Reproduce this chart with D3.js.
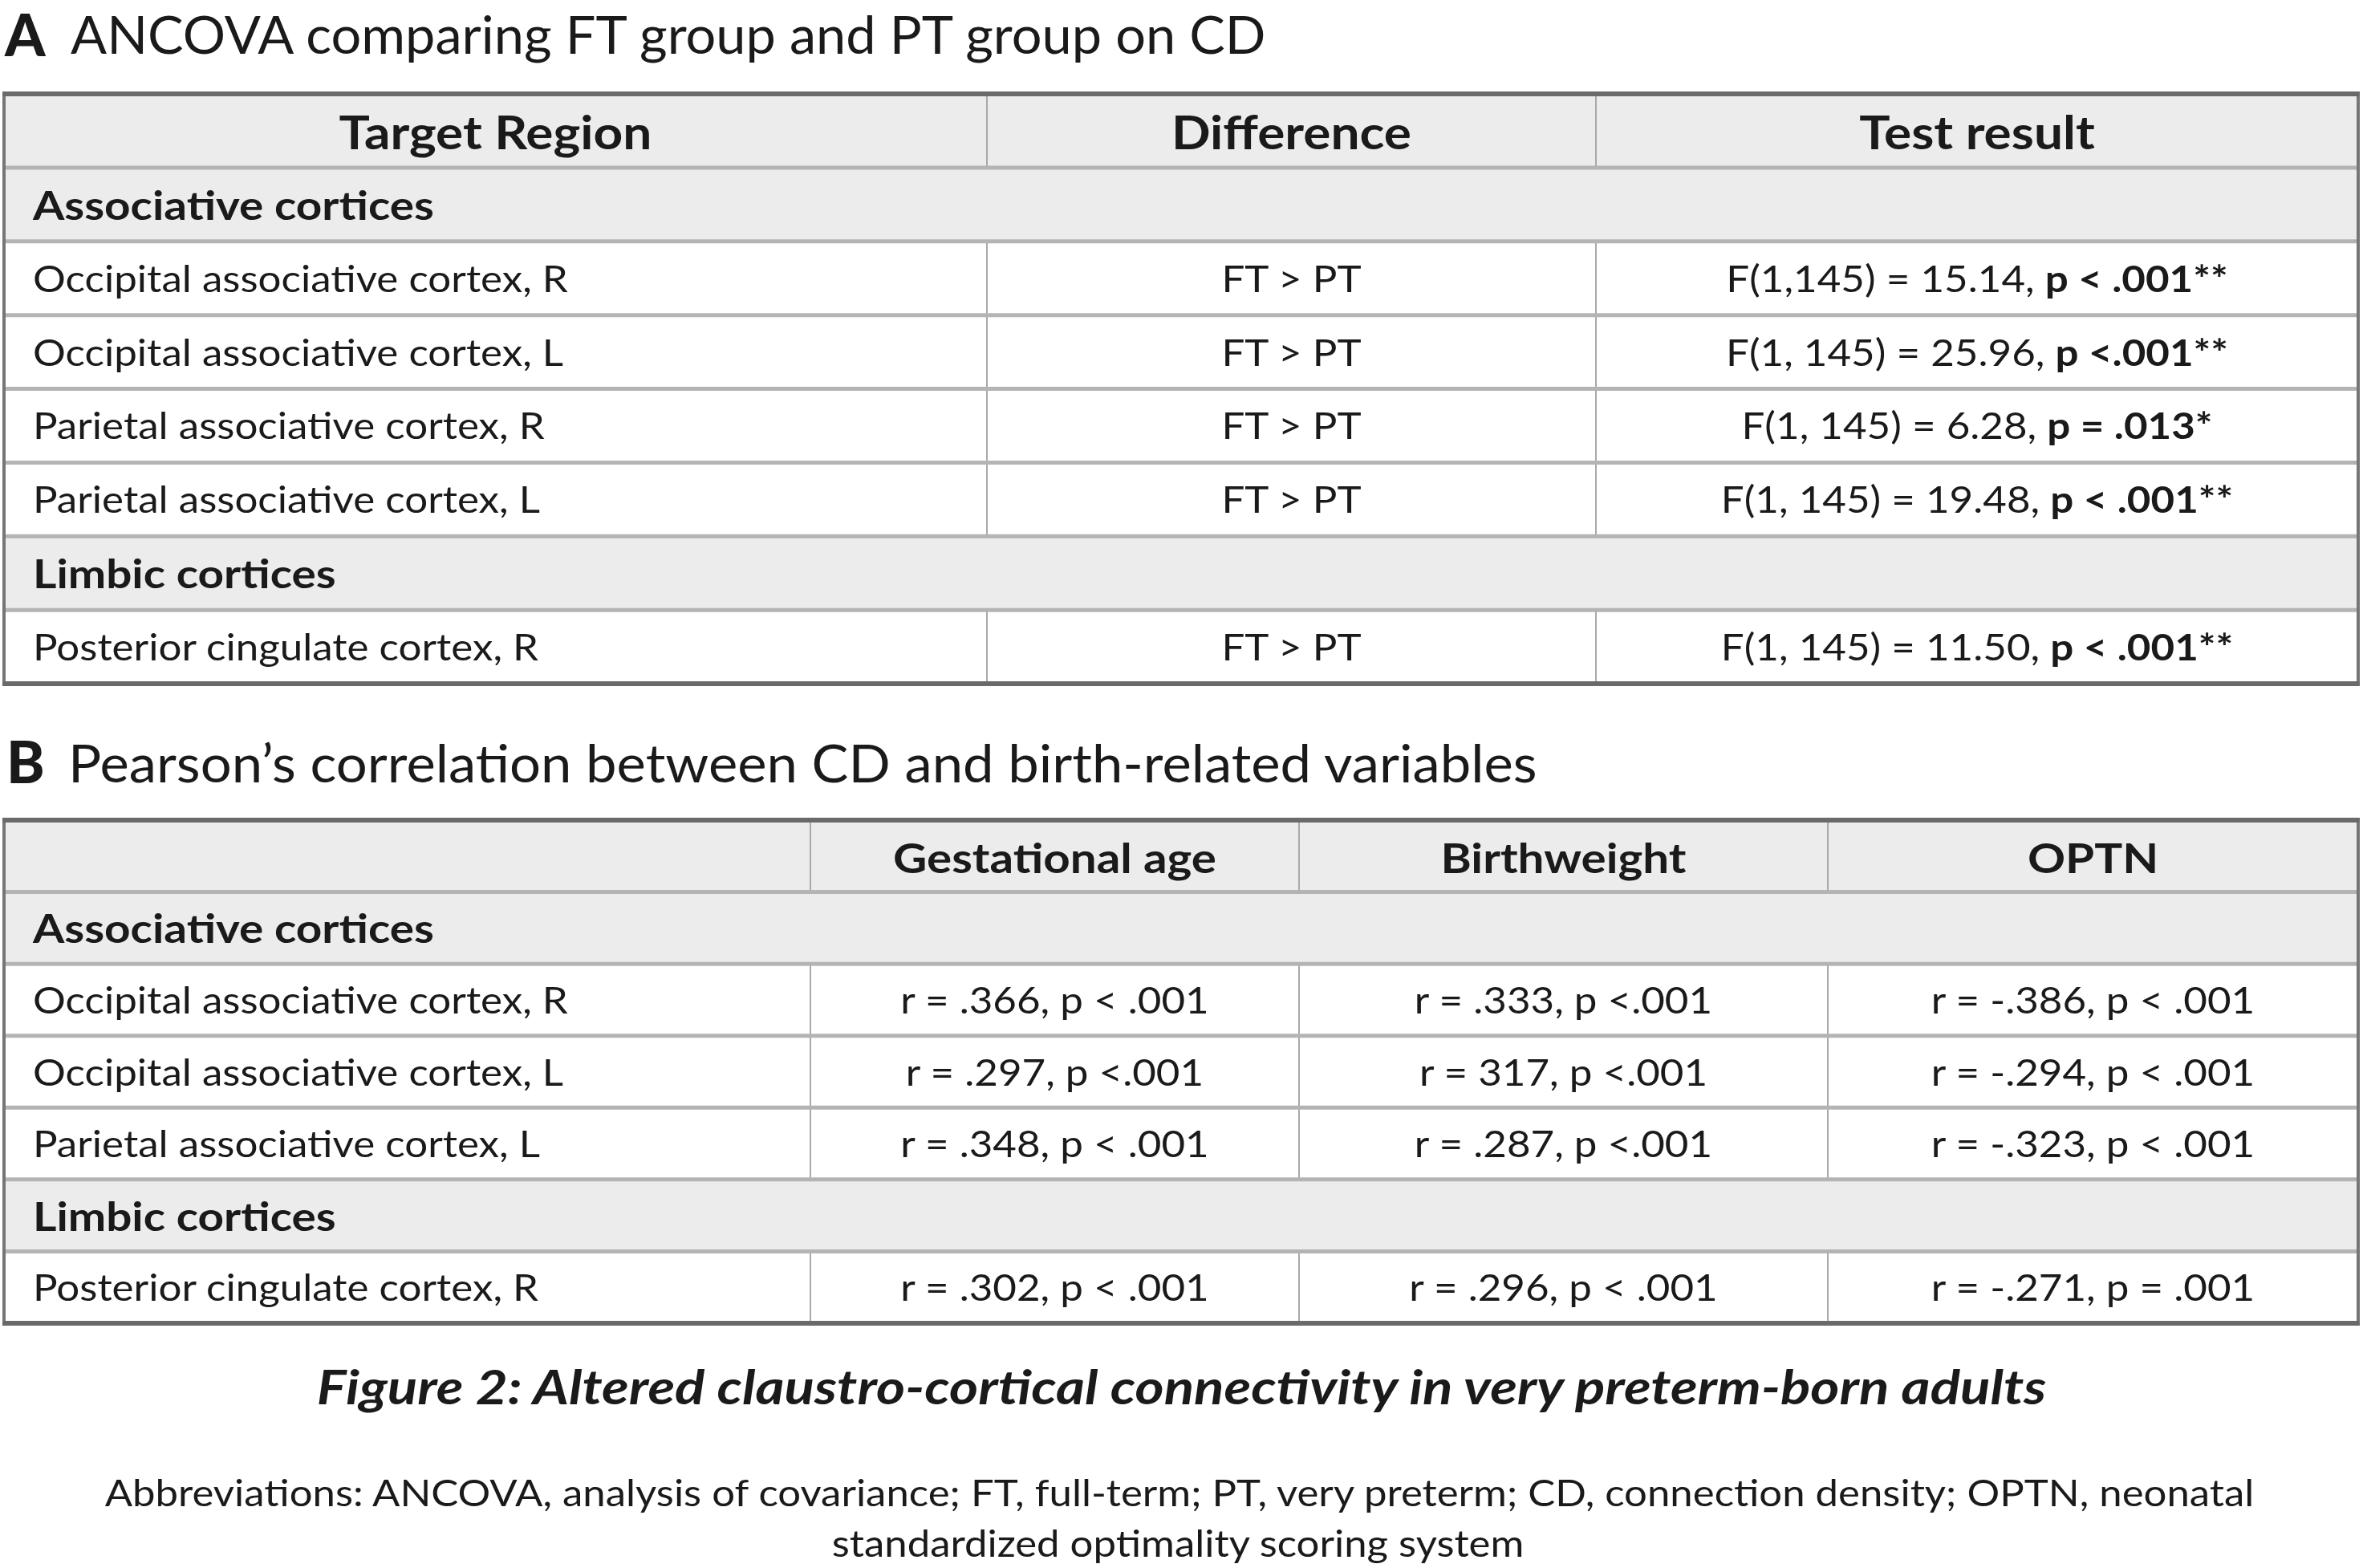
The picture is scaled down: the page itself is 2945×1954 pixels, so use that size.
<!DOCTYPE html>
<html>
<head>
<meta charset="utf-8">
<script src="https://cdn.jsdelivr.net/npm/d3@7"></script>
<style>
  html, body { margin: 0; padding: 0; background: #ffffff; }
  svg { display: block; }
</style>
</head>
<body>
<script>
// ---------------- DATA ----------------
const panelLetterA = "A";
const titleA = "ANCOVA comparing FT group and PT group on CD";
const columnsA = ["Target Region", "Difference", "Test result"];
const rowKindsA = ["group", "data", "data", "data", "data", "group", "data"];
const regionsA = [
  "Associative cortices",
  "Occipital associative cortex, R",
  "Occipital associative cortex, L",
  "Parietal associative cortex, R",
  "Parietal associative cortex, L",
  "Limbic cortices",
  "Posterior cingulate cortex, R"
];
const differenceA = ["", "FT > PT", "FT > PT", "FT > PT", "FT > PT", "", "FT > PT"];
const fStatA = ["", "F(1,145) = 15.14, ", "F(1, 145) = 25.96, ", "F(1, 145) = 6.28, ", "F(1, 145) = 19.48, ", "", "F(1, 145) = 11.50, "];
const pStatA = ["", "p < .001**", "p <.001**", "p = .013*", "p < .001**", "", "p < .001**"];

const panelLetterB = "B";
const titleB = "Pearson\u2019s correlation between CD and birth-related variables";
const columnsB = ["", "Gestational age", "Birthweight", "OPTN"];
const rowKindsB = ["group", "data", "data", "data", "group", "data"];
const regionsB = [
  "Associative cortices",
  "Occipital associative cortex, R",
  "Occipital associative cortex, L",
  "Parietal associative cortex, L",
  "Limbic cortices",
  "Posterior cingulate cortex, R"
];
const gestationalAgeB = ["", "r = .366, p < .001", "r = .297, p <.001", "r = .348, p < .001", "", "r = .302, p < .001"];
const birthweightB = ["", "r = .333, p <.001", "r = 317, p <.001", "r = .287, p <.001", "", "r = .296, p < .001"];
const optnB = ["", "r = -.386, p < .001", "r = -.294, p < .001", "r = -.323, p < .001", "", "r = -.271, p = .001"];

const captionText = "Figure 2: Altered claustro-cortical connectivity in very preterm-born adults";
const abbreviationLines = [
  "Abbreviations: ANCOVA, analysis of covariance; FT, full-term; PT, very preterm; CD, connection density; OPTN, neonatal",
  "standardized optimality scoring system"
];

// ---------------- LAYOUT ----------------
const W = 2945, H = 1954;
const FONT = "Lato, 'Open Sans', 'Noto Sans', sans-serif";
const INK = "#1a1a1a";
const SHADE = "#ececec";

const svg = d3.select("body").append("svg")
  .attr("width", W).attr("height", H)
  .attr("viewBox", `0 0 ${W} ${H}`);
svg.append("rect").attr("width", W).attr("height", H).attr("fill", "#fff");

// measure helper -> horizontal compression factor to match the reference widths
function fitFactor(size, weight, style, sample, target) {
  const t = svg.append("text")
    .attr("font-family", FONT).attr("font-size", size)
    .attr("font-weight", weight).attr("font-style", style)
    .text(sample);
  const w = t.node().getComputedTextLength();
  t.remove();
  return target / w;
}

const S_BODY = 46, S_BOLD = 50, S_TITLE = 66, S_LETTER = 72, S_CAP = 60, S_ABBR = 47;
const kBody = fitFactor(S_BODY, 400, "normal", "Occipital associative cortex, R", 667);
const kBold = fitFactor(S_BOLD, 700, "normal", "Associative cortices", 500);
const kTitleA = fitFactor(S_TITLE, 400, "normal", titleA, 1490);
const kTitleB = fitFactor(S_TITLE, 400, "normal", titleB, 1831);
const kCap = fitFactor(S_CAP, 700, "italic", captionText, 2156);
const kAbbr = fitFactor(S_ABBR, 400, "normal", abbreviationLines[0], 2679);

function drawText(g, str, x, y, opts) {
  const o = Object.assign({ size: S_BODY, weight: 400, style: "normal", anchor: "start", k: 1 }, opts);
  return g.append("text")
    .attr("transform", `translate(${x},${y}) scale(${o.k},1)`)
    .attr("text-anchor", o.anchor)
    .attr("font-family", FONT)
    .attr("font-size", o.size)
    .attr("font-weight", o.weight)
    .attr("font-style", o.style)
    .attr("fill", INK)
    .text(str);
}

function drawTable(g, cfg) {
  const nRows = cfg.rowKinds.length + 1;
  const y = d3.scaleBand().domain(d3.range(nRows)).range([cfg.top, cfg.bottom]).paddingInner(0);
  const edges = cfg.edges;
  const col = d3.scaleOrdinal().domain(d3.range(edges.length - 1)).range(edges.slice(0, -1));
  const colW = i => edges[i + 1] - edges[i];
  const left = edges[0], right = edges[edges.length - 1];
  const kinds = ["header"].concat(cfg.rowKinds);

  // backgrounds
  g.selectAll("rect.bg").data(kinds).join("rect")
    .attr("class", "bg")
    .attr("x", left).attr("width", right - left)
    .attr("y", (d, i) => y(i)).attr("height", y.bandwidth())
    .attr("fill", d => d === "data" ? "#ffffff" : SHADE);

  // vertical separators for header / data rows
  kinds.forEach((kind, i) => {
    if (kind === "group") return;
    for (let c = 1; c < edges.length - 1; c++) {
      g.append("line")
        .attr("x1", edges[c]).attr("x2", edges[c])
        .attr("y1", y(i)).attr("y2", y(i) + y.bandwidth())
        .attr("stroke", "#a9a9a9").attr("stroke-width", 2);
    }
  });

  // horizontal separators
  d3.range(1, nRows).forEach(i => {
    g.append("line")
      .attr("x1", left).attr("x2", right)
      .attr("y1", y(i)).attr("y2", y(i))
      .attr("stroke", "#b4b4b4").attr("stroke-width", 5);
  });

  // outer frame
  g.append("rect")
    .attr("x", left).attr("y", cfg.top)
    .attr("width", right - left).attr("height", cfg.bottom - cfg.top)
    .attr("fill", "none").attr("stroke", "#767676").attr("stroke-width", 4);
  g.append("line")
    .attr("x1", left - 2).attr("x2", right + 2)
    .attr("y1", cfg.top).attr("y2", cfg.top)
    .attr("stroke", "#6a6a6a").attr("stroke-width", 6);
  g.append("line")
    .attr("x1", left - 2).attr("x2", right + 2)
    .attr("y1", cfg.bottom).attr("y2", cfg.bottom)
    .attr("stroke", "#6a6a6a").attr("stroke-width", 6);

  const mid = i => y(i) + y.bandwidth() / 2;

  // header
  const hs = S_BOLD * cfg.headerScale;
  cfg.columns.forEach((c, j) => {
    if (!c) return;
    drawText(g, c, col(j) + colW(j) / 2, mid(0) + hs * 0.38 + 2, { size: hs, weight: 700, anchor: "middle", k: kBold });
  });

  // body rows
  cfg.rowKinds.forEach((kind, r) => {
    const i = r + 1;
    if (kind === "group") {
      drawText(g, cfg.regions[r], left + 36, mid(i) + 19, { size: S_BOLD, weight: 700, k: kBold });
      return;
    }
    drawText(g, cfg.regions[r], left + 36, mid(i) + 17, { k: kBody });
    cfg.cells.forEach((cellFn, j) => {
      const c = j + 1;
      const t = g.append("text")
        .attr("transform", `translate(${col(c) + colW(c) / 2},${mid(i) + 17}) scale(${kBody},1)`)
        .attr("text-anchor", "middle")
        .attr("font-family", FONT).attr("font-size", S_BODY)
        .attr("fill", INK);
      cellFn(t, r);
    });
  });
}

// ---------- Panel A ----------
const gA = svg.append("g");
drawText(gA, panelLetterA, 6, 70, { size: S_LETTER, weight: 900 });
drawText(gA, titleA, 88, 67, { size: S_TITLE, k: kTitleA });
drawTable(gA, {
  top: 117, bottom: 852,
  edges: [5, 1230, 1989, 2939],
  columns: columnsA,
  headerScale: 1.13,
  rowKinds: rowKindsA,
  regions: regionsA,
  cells: [
    (t, r) => t.text(differenceA[r]),
    (t, r) => {
      t.append("tspan").text(fStatA[r]);
      t.append("tspan").attr("font-weight", 700).text(pStatA[r]);
    }
  ]
});

// ---------- Panel B ----------
const gB = svg.append("g");
drawText(gB, panelLetterB, 8, 976, { size: S_LETTER, weight: 900 });
drawText(gB, titleB, 85, 975, { size: S_TITLE, k: kTitleB });
drawTable(gB, {
  top: 1022, bottom: 1649,
  edges: [5, 1010, 1619, 2278, 2939],
  columns: columnsB,
  headerScale: 1.03,
  rowKinds: rowKindsB,
  regions: regionsB,
  cells: [
    (t, r) => t.text(gestationalAgeB[r]),
    (t, r) => t.text(birthweightB[r]),
    (t, r) => t.text(optnB[r])
  ]
});

// ---------- Caption ----------
drawText(svg, captionText, W / 2, 1750, { size: S_CAP, weight: 700, style: "italic", anchor: "middle", k: kCap });
drawText(svg, abbreviationLines[0], 1470, 1877, { size: S_ABBR, anchor: "middle", k: kAbbr });
drawText(svg, abbreviationLines[1], 1468, 1940, { size: S_ABBR, anchor: "middle", k: kAbbr });
</script>
</body>
</html>
